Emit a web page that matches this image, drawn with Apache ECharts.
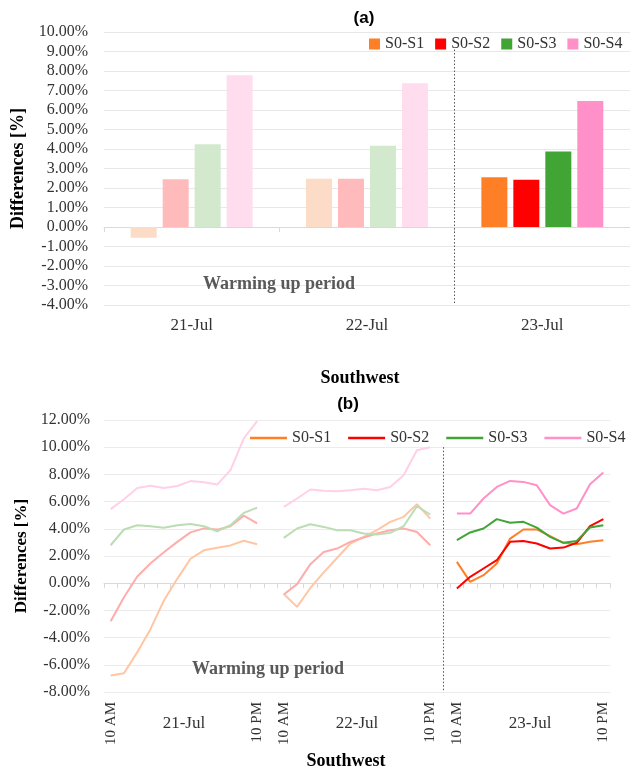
<!DOCTYPE html>
<html lang="en">
<head>
<meta charset="UTF-8">
<title>Differences - Southwest</title>
<script src="https://cdn.jsdelivr.net/npm/echarts@6/dist/echarts.min.js"></script>
<style>
  html, body { margin: 0; padding: 0; background: #fff; }
  #chart { width: 630px; height: 772px; }
</style>
</head>
<body>
<div id="chart"></div>
<script>
  const days = ['21-Jul', '22-Jul', '23-Jul'];
  const names = ['S0-S1', 'S0-S2', 'S0-S3', 'S0-S4'];

  // (a) daily differences [%]
  const barS1 = [-0.55, 2.48, 2.55];
  const barS2 = [2.45, 2.48, 2.42];
  const barS3 = [4.24, 4.17, 3.87];
  const barS4 = [7.78, 7.37, 6.46];

  // (b) hourly differences [%], 12 readings per day
  const lineS1 = [
    [-6.79, -6.62, -5.07, -3.36, -1.27, 0.32, 1.8, 2.42, 2.61, 2.78, 3.12, 2.86],
    [-0.8, -1.74, -0.35, 0.8, 1.85, 2.92, 3.41, 3.9, 4.51, 4.88, 5.81, 4.75],
    [1.57, 0.1, 0.59, 1.45, 3.28, 3.95, 3.95, 3.46, 2.97, 2.87, 3.04, 3.16]
  ];
  const lineS2 = [
    [-2.79, -1.03, 0.49, 1.47, 2.28, 3.04, 3.74, 4.03, 3.94, 4.19, 4.97, 4.4],
    [-0.83, -0.07, 1.4, 2.3, 2.55, 3.04, 3.36, 3.65, 3.9, 4.02, 3.77, 2.79],
    [-0.39, 0.47, 1.08, 1.69, 3.04, 3.11, 2.92, 2.55, 2.62, 2.97, 4.19, 4.71]
  ];
  const lineS3 = [
    [2.79, 3.95, 4.26, 4.19, 4.07, 4.26, 4.36, 4.19, 3.82, 4.26, 5.17, 5.56],
    [3.33, 4.02, 4.34, 4.14, 3.9, 3.9, 3.65, 3.58, 3.7, 4.19, 5.66, 5.05],
    [3.16, 3.73, 4.02, 4.71, 4.44, 4.51, 4.09, 3.41, 2.97, 3.11, 4.09, 4.26]
  ];
  const lineS4 = [
    [5.45, 6.17, 7.0, 7.17, 7.0, 7.15, 7.51, 7.43, 7.25, 8.31, 10.65, 11.92],
    [5.61, 6.23, 6.89, 6.8, 6.77, 6.84, 6.94, 6.84, 7.08, 7.94, 9.78, 10.0],
    [5.12, 5.12, 6.23, 7.08, 7.52, 7.45, 7.2, 5.74, 5.12, 5.49, 7.28, 8.14]
  ];
  const hourEnds = ['10 AM', '10 PM'];

  const fullColor = ['#FF7F27', '#FF0000', '#41A535', '#FF90C8'];
  const paleBar = ['#FCDCC6', '#FFBBBB', '#D3E9CE', '#FFDDEE'];
  const paleLine = ['#FFC6A4', '#FFACAC', '#BCDDB4', '#FFD0E6'];

  const barVals = [barS1, barS2, barS3, barS4];
  const lineVals = [lineS1, lineS2, lineS3, lineS4];

  // 38 slots: day1 (12), gap, day2 (12), gap, day3 (12)
  const slots = [];
  days.forEach((d, di) => {
    for (let h = 0; h < 12; h++) slots.push(d + '|' + h);
    if (di < 2) slots.push('gap' + di);
  });

  const serif = 'Liberation Serif';
  const grey = '#d9d9d9';

  const series = [];
  barVals.forEach((vals, k) => {
    series.push({
      type: 'bar', name: names[k], xAxisIndex: 0, yAxisIndex: 0,
      barWidth: 26, barGap: '23%',
      itemStyle: { color: fullColor[k] },
      data: vals.map((v, i) => ({ value: v, itemStyle: { color: i < 2 ? paleBar[k] : fullColor[k] } }))
    });
  });
  lineVals.forEach((days3, k) => {
    const pale = [...days3[0], null, ...days3[1]].concat(Array(13).fill(null));
    const full = Array(26).fill(null).concat(days3[2]);
    series.push({
      type: 'line', name: names[k] + ' warm', xAxisIndex: 3, yAxisIndex: 1,
      symbol: 'none', lineStyle: { width: 2, color: paleLine[k] }, itemStyle: { color: paleLine[k] },
      data: pale
    });
    series.push({
      type: 'line', name: names[k] + ' b', xAxisIndex: 3, yAxisIndex: 1,
      symbol: 'none', lineStyle: { width: 2, color: fullColor[k] }, itemStyle: { color: fullColor[k] },
      data: full
    });
  });
  // dotted separators after the warming up period
  series.push({
    type: 'line', xAxisIndex: 2, yAxisIndex: 0, data: [],
    markLine: { silent: true, symbol: 'none', label: { show: false },
      lineStyle: { type: [1.5, 2], color: '#555', width: 1 },
      data: [[{ coord: [2, 9.1] }, { coord: [2, -4] }]] }
  });
  series.push({
    type: 'line', xAxisIndex: 5, yAxisIndex: 1, data: [],
    markLine: { silent: true, symbol: 'none', label: { show: false },
      lineStyle: { type: [1.5, 2], color: '#555', width: 1 },
      data: [[{ coord: [25, 10] }, { coord: [25, -8] }]] }
  });

  const pct = v => v.toFixed(2) + '%';
  const titleFont = { fontFamily: serif, fontWeight: 'bold', fontSize: 18, color: '#000' };
  const warmFont = { fontFamily: serif, fontWeight: 'bold', fontSize: 18, color: '#595959' };

  const option = {
    animation: false,
    backgroundColor: '#fff',
    title: [
      { text: '(a)', left: 364, top: 10, textAlign: 'center', padding: 0,
        textStyle: { fontFamily: 'Liberation Sans', fontWeight: 'bold', fontSize: 17, color: '#000' } },
      { text: '(b)', left: 348, top: 396, textAlign: 'center', padding: 0,
        textStyle: { fontFamily: 'Liberation Sans', fontWeight: 'bold', fontSize: 17, color: '#000' } },
      { text: 'Southwest', left: 360, top: 369, textAlign: 'center', padding: 0, textStyle: titleFont },
      { text: 'Southwest', left: 346, top: 752, textAlign: 'center', padding: 0, textStyle: titleFont },
      { text: 'Warming up period', left: 279, top: 275, textAlign: 'center', padding: 0, textStyle: warmFont },
      { text: 'Warming up period', left: 268, top: 660, textAlign: 'center', padding: 0, textStyle: warmFont }
    ],
    legend: [
      { data: names, left: 369, top: 36, padding: 0, icon: 'rect', itemWidth: 11, itemHeight: 11, itemGap: 11,
        textStyle: { fontFamily: serif, fontSize: 16, color: '#333' } },
      { data: names.map(n => n + ' b'), left: 250, top: 430, padding: 0, icon: 'rect', itemWidth: 37, itemHeight: 2.5,
        itemGap: 17, formatter: n => n.slice(0, 5),
        textStyle: { fontFamily: serif, fontSize: 16, color: '#333' } }
    ],
    grid: [
      { left: 104, top: 32, width: 533, height: 273 },
      { left: 104, top: 420, width: 506, height: 272 }
    ],
    xAxis: [
      { type: 'category', gridIndex: 0, data: days, position: 'bottom',
        axisLine: { onZero: true, lineStyle: { color: grey } },
        axisTick: { show: true, length: 5, lineStyle: { color: grey } },
        axisLabel: { show: false }, splitLine: { show: false } },
      { type: 'category', gridIndex: 0, data: days, position: 'bottom',
        axisLine: { show: false, onZero: false }, axisTick: { show: false },
        axisLabel: { margin: 12, fontFamily: serif, fontSize: 17, color: '#333' } },
      { type: 'value', gridIndex: 0, min: 0, max: 3, show: false },
      { type: 'category', gridIndex: 1, data: slots, position: 'bottom',
        axisLine: { onZero: true, lineStyle: { color: grey } },
        axisTick: { show: true, length: 5, interval: 0, lineStyle: { color: grey } },
        axisLabel: { show: false }, splitLine: { show: false } },
      { type: 'category', gridIndex: 1, data: slots, position: 'bottom',
        axisLine: { show: false, onZero: false }, axisTick: { show: false },
        axisLabel: { interval: 0, rotate: 90, margin: 10, fontFamily: serif, fontSize: 15, color: '#333',
          formatter: s => {
            const h = s.split('|')[1];
            if (h === '0') return hourEnds[0];
            if (h === '11') return hourEnds[1];
            return '';
          } } },
      { type: 'value', gridIndex: 1, min: -0.5, max: 37.5, position: 'bottom',
        axisLine: { show: false, onZero: false }, axisTick: { show: false }, splitLine: { show: false },
        axisLabel: { customValues: [5.5, 18.5, 31.5], margin: 23, fontFamily: serif, fontSize: 17, color: '#333',
          formatter: v => days[Math.round((v - 5.5) / 13)] } }
    ],
    yAxis: [
      { type: 'value', gridIndex: 0, min: -4, max: 10, interval: 1,
        name: 'Differences [%]', nameLocation: 'middle', nameGap: 76, nameRotate: 90,
        nameTextStyle: { fontFamily: serif, fontWeight: 'bold', fontSize: 18, color: '#000' },
        axisLine: { show: false }, axisTick: { show: false },
        axisLabel: { margin: 16, fontFamily: serif, fontSize: 16, color: '#333', formatter: pct },
        splitLine: { lineStyle: { color: '#e8e8e8' } } },
      { type: 'value', gridIndex: 1, min: -8, max: 12, interval: 2,
        name: 'Differences [%]', nameLocation: 'middle', nameGap: 73, nameRotate: 90,
        nameTextStyle: { fontFamily: serif, fontWeight: 'bold', fontSize: 17, color: '#000' },
        axisLine: { show: false }, axisTick: { show: false },
        axisLabel: { margin: 14, fontFamily: serif, fontSize: 16, color: '#333', formatter: pct },
        splitLine: { lineStyle: { color: '#ececec' } } }
    ],
    series: series
  };

  const chart = echarts.init(document.getElementById('chart'), null, { renderer: 'canvas' });
  chart.setOption(option);
</script>
</body>
</html>
